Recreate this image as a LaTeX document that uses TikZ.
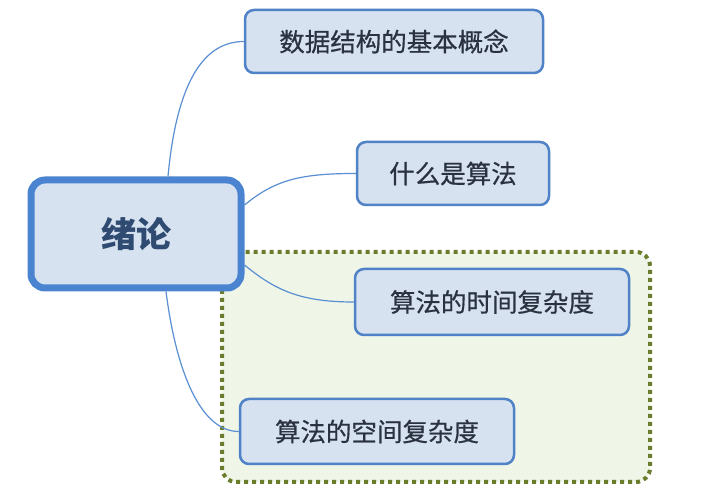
\documentclass[tikz,border=0pt]{standalone}
\usepackage{fontspec}
\newfontfamily\cjk[FakeBold=0.6]{Noto Sans CJK SC}
\newfontfamily\cjkroot{Noto Sans CJK SC}
\definecolor{boxfill}{HTML}{D7E2F0}
\definecolor{boxline}{HTML}{4F82C6}
\definecolor{rootline}{HTML}{4A84D0}
\definecolor{txt}{HTML}{2A3240}
\definecolor{roottxt}{HTML}{2F4B72}
\definecolor{conn}{HTML}{5A8FD2}
\definecolor{grpfill}{HTML}{EFF5E7}
\definecolor{grpline}{HTML}{6A7D2C}
\tikzset{
  topic/.style={draw=boxline, fill=boxfill, line width=2.5pt, rounded corners=9pt,
    text=txt, font=\cjk\fontsize{25.5}{30}\selectfont, anchor=center, inner sep=0pt},
  rootbox/.style={draw=rootline, fill=boxfill, line width=7pt, rounded corners=14pt,
    text=roottxt, font=\cjkroot\bfseries\fontsize{35}{40}\selectfont, inner sep=0pt},
  conn/.style={draw=conn, line width=1.2pt},
}
\begin{document}
\begin{tikzpicture}[x=1pt,y=-1pt]
\useasboundingbox (0,0) rectangle (710,502);
\fill[white] (0,0) rectangle (710,502);
% group
\draw[grpline, fill=grpfill, line width=4pt, dash pattern=on 4pt off 4pt, rounded corners=14pt]
  (222,252) rectangle (650,482);
% nodes
\node[rootbox, minimum width=210pt, minimum height=108pt] (root) at (136,234) {绪论};
\node[topic, minimum width=298pt, minimum height=63pt] (a) at (394,41.5) {数据结构的基本概念};
\node[topic, minimum width=192pt, minimum height=63pt] (b) at (453,173.5) {什么是算法};
\node[topic, minimum width=274pt, minimum height=66pt] (c) at (492,302) {算法的时间复杂度};
\node[topic, minimum width=274pt, minimum height=65pt] (d) at (377,431.5) {算法的空间复杂度};
% connectors
\draw[conn] ([xshift=32pt]root.north) .. controls (176,90) and (200,41.5) .. (a.west);
\draw[conn] ([yshift=29pt]root.east) .. controls (275,180) and (300,173.5) .. (b.west);
\draw[conn] ([yshift=-31pt]root.east) .. controls (275,290) and (300,302) .. (c.west);
\draw[conn] ([xshift=30pt]root.south) .. controls (176,370) and (200,431.5) .. (d.west);
\end{tikzpicture}
\end{document}
